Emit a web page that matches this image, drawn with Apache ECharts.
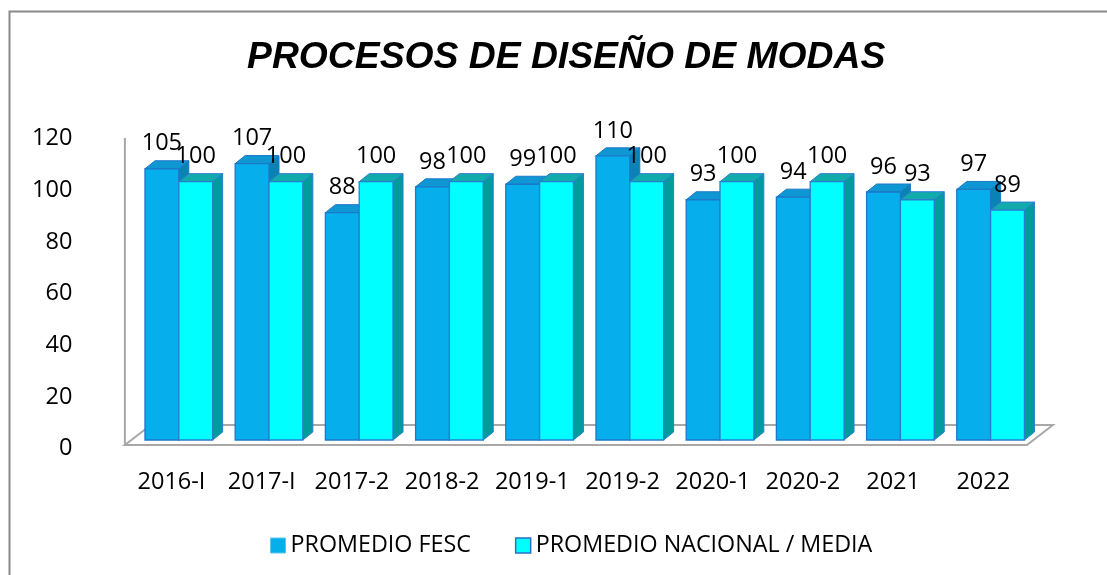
<!DOCTYPE html>
<html>
<head>
<meta charset="utf-8">
<script src="https://cdn.jsdelivr.net/npm/echarts@6/dist/echarts.min.js"></script>
<style>
html, body { margin: 0; padding: 0; background: #ffffff; }
#chart { width: 1107px; height: 575px; }
</style>
</head>
<body>
<div id="chart"></div>
<script>
// Periods and scores
const categories = ['2016-I', '2017-I', '2017-2', '2018-2', '2019-1', '2019-2', '2020-1', '2020-2', '2021', '2022'];
const promedioFesc = [105, 107, 88, 98, 99, 110, 93, 94, 96, 97];
const promedioNacional = [100, 100, 100, 100, 100, 100, 100, 100, 93, 89];
const seriesNames = ['PROMEDIO FESC', 'PROMEDIO NACIONAL / MEDIA'];
const yMin = 0, yMax = 120, yStep = 20;

const FONT = '"Open Sans", "Noto Sans", sans-serif';
const palettes = [
  { front: '#06AEEC', top: '#0E97D2', side: '#0A82B4', edge: '#1C78C8' },
  { front: '#00FFFF', top: '#12ABAB', side: '#009C9C', edge: '#2A7CD0' }
];

// Extruded column: side face, top face, front face and the value above it
function barRenderer(k) {
  const pal = palettes[k];
  return function (params, api) {
    const idx = api.value(0);
    const val = api.value(1);
    const base = api.coord([idx, 0]);
    const top = api.coord([idx, val]);
    const band = api.size([1, 0])[0];
    const w = band * 0.375;
    const x0 = base[0] - band * 0.294 + k * w;
    const x1 = x0 + w;
    const yb = base[1], yt = top[1];
    const dx = 10, dy = -8;
    return {
      type: 'group',
      children: [
        { type: 'polygon', shape: { points: [[x1, yb], [x1 + dx, yb + dy], [x1 + dx, yt + dy], [x1, yt]] },
          style: { fill: pal.side, stroke: pal.edge, lineWidth: 1 } },
        { type: 'polygon', shape: { points: [[x0, yt], [x0 + dx, yt + dy], [x1 + dx, yt + dy], [x1, yt]] },
          style: { fill: pal.top, stroke: pal.edge, lineWidth: 1 } },
        { type: 'rect', shape: { x: x0, y: yt, width: w, height: yb - yt },
          style: { fill: pal.front, stroke: pal.edge, lineWidth: 1.3 } },
        { type: 'text', z2: 20,
          style: { text: String(val), x: (x0 + x1) / 2, y: yt - 25, fill: '#000000',
                   fontSize: 23.5, fontFamily: FONT, textAlign: 'center', textVerticalAlign: 'middle' } }
      ]
    };
  };
}

// Floor plane and left wall edge, taken from the grid's box
function floorRenderer(params, api) {
  const cs = params.coordSys;
  const left = cs.x - 1.5;
  const right = cs.x + cs.width - 1.5;
  const front = cs.y + cs.height + 5;
  const depthX = 26, depthY = -20;
  const wallTop = api.coord([0, yMax])[1] + 8;
  return {
    type: 'group',
    children: [
      { type: 'polygon', shape: { points: [[left, front], [right, front], [right + depthX, front + depthY], [left + depthX, front + depthY]] },
        style: { fill: '#ffffff', stroke: '#A8A8A8', lineWidth: 2 } },
      { type: 'line', shape: { x1: left, y1: wallTop, x2: left, y2: front },
        style: { stroke: '#A8A8A8', lineWidth: 2 } }
    ]
  };
}

const chart = echarts.init(document.getElementById('chart'), null, { renderer: 'canvas' });
chart.setOption({
  animation: false,
  backgroundColor: '#ffffff',
  title: {
    text: 'PROCESOS DE DISEÑO DE MODAS',
    left: 247, top: 39, padding: 0,
    textStyle: { fontFamily: '"Liberation Sans", Arial, sans-serif', fontSize: 37.3, fontWeight: 'bold', fontStyle: 'italic', color: '#000000' }
  },
  graphic: [
    { type: 'rect', silent: true, z: -1, shape: { x: 9.5, y: 11.5, width: 1300, height: 800 },
      style: { fill: 'none', stroke: '#8A8A8A', lineWidth: 2 } }
  ],
  legend: {
    left: 265, top: 529,
    itemWidth: 15, itemHeight: 15, itemGap: 44,
    icon: 'rect',
    textStyle: { fontFamily: FONT, fontSize: 23.3, color: '#000000' },
    data: [
      { name: seriesNames[0], itemStyle: { color: palettes[0].front, borderColor: '#5CC8F0', borderWidth: 1 } },
      { name: seriesNames[1], itemStyle: { color: palettes[1].front, borderColor: '#2A6FC8', borderWidth: 1.5 } }
    ]
  },
  grid: { left: 126.4, right: 78.6, top: 130, bottom: 135 },
  xAxis: {
    type: 'category',
    data: categories,
    axisLine: { show: false },
    axisTick: { show: false },
    axisLabel: { margin: 30, fontFamily: FONT, fontSize: 23.5, color: '#000000', interval: 0 }
  },
  yAxis: {
    type: 'value',
    min: yMin, max: yMax, interval: yStep,
    axisLine: { show: false },
    axisTick: { show: false },
    splitLine: { show: false },
    axisLabel: { margin: 54, fontFamily: FONT, fontSize: 23.5, color: '#000000', verticalAlign: 'top', lineHeight: 17 }
  },
  series: [
    { type: 'custom', name: 'floor', silent: true, z: 1, renderItem: floorRenderer, data: [[0, 0]] },
    { type: 'custom', name: seriesNames[0], z: 2, renderItem: barRenderer(0),
      itemStyle: { color: palettes[0].front },
      data: promedioFesc.map((v, i) => [i, v]) },
    { type: 'custom', name: seriesNames[1], z: 3, renderItem: barRenderer(1),
      itemStyle: { color: palettes[1].front },
      data: promedioNacional.map((v, i) => [i, v]) }
  ]
});
</script>
</body>
</html>
